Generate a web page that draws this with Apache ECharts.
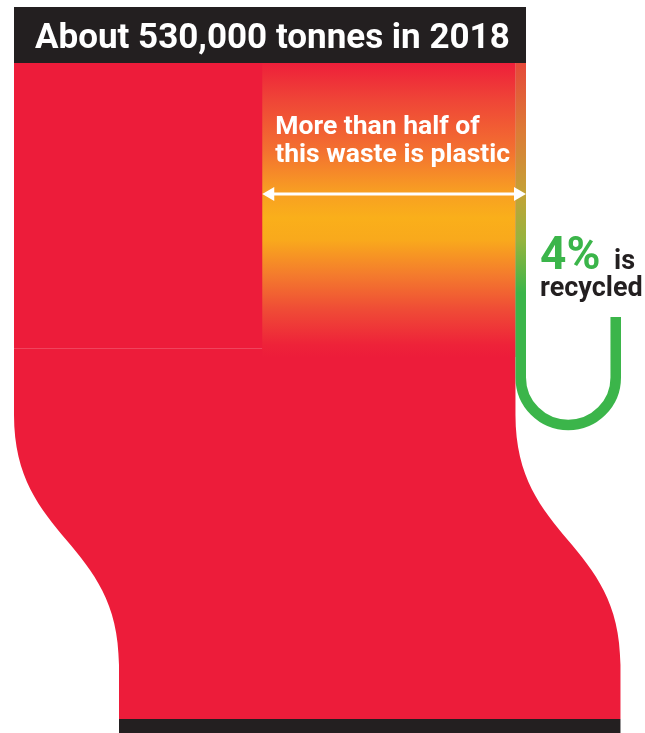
<!DOCTYPE html>
<html><head><meta charset="utf-8">
<script src="https://cdn.jsdelivr.net/npm/echarts@6/dist/echarts.min.js"></script>
<style>html,body{margin:0;padding:0;background:#fff}#c{width:645px;height:733px}</style>
</head><body><div id="c"></div>
<script>
// ---- data ----
const stages = ['All waste', 'Plastic', 'Recycled'];
const tonnes = [530000, 273000, 10900];
const titleText = 'About 530,000 tonnes in 2018';
const plasticNote = ['More than half of', 'this waste is plastic'];
const recycledPct = '4%';
const recycledNote = ['is', 'recycled'];

// ---- layout / style ----
const RED = '#ED1C3A', DARK = '#231F20', GREEN = '#3BB54A';
const L = { titleTop: 7, blockTop: 63, blockBottom: 348, glowBottom: 357, bendStart: 415, bendEnd: 665,
  flowBottom: 719, baseBottom: 733, shift: 105, uWidth: 95, uBottom: 425, uTop: 317, arrowY: 194 };
const FONT = 'Roboto, "Noto Sans", sans-serif';

const chart = echarts.init(document.getElementById('c'), null, { renderer: 'canvas' });

function renderItem(params, api) {
  const total = tonnes[0], plastic = tonnes[1], rec = tonnes[2];
  const px = v => api.coord([v, 0])[0];
  const py = v => api.coord([0, v])[1];
  const i = params.dataIndex;
  const children = [];
  if (i === 0) {
    const x0 = px(0), xT = px(total), xr = px(total - rec), s = L.shift;
    children.push({ type: 'rect', shape: { x: x0, y: py(L.titleTop), width: xT - x0, height: py(L.blockTop) - py(L.titleTop) }, style: { fill: DARK } });
    children.push({ type: 'rect', shape: { x: x0, y: py(L.blockTop), width: xr - x0, height: py(L.blockBottom) - py(L.blockTop) }, style: { fill: RED } });
    const yb = py(L.bendStart), ye = py(L.bendEnd), ym = (yb + ye) / 2, yt = py(L.blockBottom), yf = py(L.flowBottom);
    const d = `M${x0},${yt} L${xr},${yt} L${xr},${yb} C${xr},${ym} ${xr + s},${ym} ${xr + s},${ye} L${xr + s},${yf} L${x0 + s},${yf} L${x0 + s},${ye} C${x0 + s},${ym} ${x0},${ym} ${x0},${yb} Z`;
    children.push({ type: 'path', shape: { pathData: d }, style: { fill: RED } });
    children.push({ type: 'line', shape: { x1: x0, y1: yt + 0.5, x2: px(total - plastic), y2: yt + 0.5 }, style: { stroke: 'rgba(255,255,255,0.18)', lineWidth: 1 } });
    children.push({ type: 'rect', shape: { x: x0 + s, y: yf, width: xr - x0, height: py(L.baseBottom) - yf }, style: { fill: DARK } });
    children.push({ type: 'text', style: { text: titleText, x: 35, y: 39, fill: '#fff', font: `bold 35px ${FONT}`, align: 'left', verticalAlign: 'middle' } });
  } else if (i === 1) {
    const xp = px(total - plastic), xr = px(total - rec), xT = px(total);
    const y0 = py(L.blockTop), y1 = py(L.glowBottom);
    const grad = new echarts.graphic.LinearGradient(0, 0, 0, 1, [
      { offset: 0, color: '#EE1F3A' }, { offset: 0.126, color: '#EF4537' }, { offset: 0.296, color: '#F37030' },
      { offset: 0.442, color: '#F8A022' }, { offset: 0.527, color: '#FAAF1A' }, { offset: 0.602, color: '#F9A91C' },
      { offset: 0.721, color: '#F47B2D' }, { offset: 0.84, color: '#EF4B36' }, { offset: 0.959, color: '#EE2239' },
      { offset: 1, color: '#ED1C3A' }]);
    children.push({ type: 'rect', shape: { x: xp, y: y0, width: xr - xp, height: y1 - y0 }, style: { fill: grad } });
    const ay = py(L.arrowY);
    children.push({ type: 'line', z2: 20, shape: { x1: xp + 6, y1: ay, x2: xT - 6, y2: ay }, style: { stroke: '#fff', lineWidth: 3 } });
    children.push({ type: 'polygon', z2: 20, shape: { points: [[xp, ay], [xp + 12, ay - 7], [xp + 12, ay + 7]] }, style: { fill: '#fff' } });
    children.push({ type: 'polygon', z2: 20, shape: { points: [[xT, ay], [xT - 12, ay - 7], [xT - 12, ay + 7]] }, style: { fill: '#fff' } });
    children.push({ type: 'text', z2: 20, style: { text: plasticNote[0], x: xp + 13, y: 127.5, fill: '#fff', font: `bold 26.5px ${FONT}`, align: 'left', verticalAlign: 'middle' } });
    children.push({ type: 'text', z2: 20, style: { text: plasticNote[1], x: xp + 13, y: 155.5, fill: '#fff', font: `bold 26.5px ${FONT}`, align: 'left', verticalAlign: 'middle' } });
  } else {
    const xl = px(total - rec), xT = px(total), w = xT - xl, xc = xl + w / 2;
    const r = L.uWidth / 2, yb = py(L.uBottom) - r;
    const d = `M${xc},${py(L.blockTop)} L${xc},${yb} A${r},${r} 0 0 0 ${xc + 2 * r},${yb} L${xc + 2 * r},${py(L.uTop)}`;
    const g = new echarts.graphic.LinearGradient(0, py(L.blockTop), 0, 300, [
      { offset: 0, color: '#E5493A' }, { offset: 0.28, color: '#DD7A36' }, { offset: 0.55, color: '#C4A236' },
      { offset: 0.75, color: '#95B43E' }, { offset: 0.97, color: GREEN }, { offset: 1, color: GREEN }], true);
    children.push({ type: 'path', shape: { pathData: d }, style: { fill: null, stroke: g, lineWidth: w, lineCap: 'butt' } });
    children.push({ type: 'text', style: { text: recycledPct, x: 540, y: 257, fill: GREEN, font: `bold 46px ${FONT}`, align: 'left', verticalAlign: 'middle' } });
    children.push({ type: 'text', style: { text: recycledNote[0], x: 614, y: 262.5, fill: DARK, font: `bold 27px ${FONT}`, align: 'left', verticalAlign: 'middle' } });
    children.push({ type: 'text', style: { text: recycledNote[1], x: 540, y: 289, fill: DARK, font: `bold 27px ${FONT}`, align: 'left', verticalAlign: 'middle' } });
  }
  return { type: 'group', children };
}

chart.setOption({
  animation: false,
  grid: { left: 14, right: 119, top: 0, bottom: 0 },
  xAxis: { type: 'value', min: 0, max: tonnes[0], show: false },
  yAxis: { type: 'value', min: 0, max: 733, inverse: true, show: false },
  series: [{
    type: 'custom', clip: false, renderItem,
    data: stages.map((s, k) => ({ name: s, value: [tonnes[k], k] })),
    encode: { x: 0, y: 1 }
  }]
});
</script></body></html>
